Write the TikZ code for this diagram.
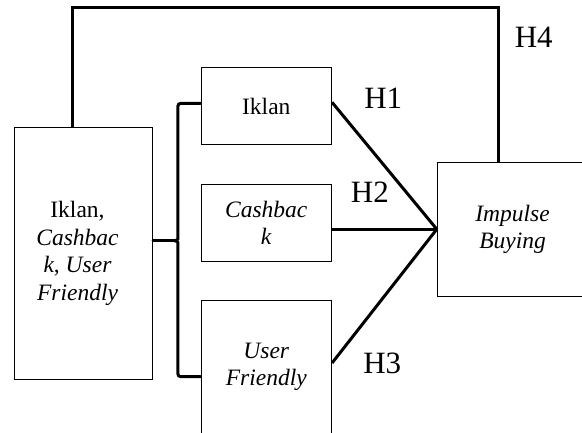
\documentclass[tikz,border=0pt]{standalone}
\usepackage{fontspec}
\setmainfont{Liberation Serif}
\begin{document}
\begin{tikzpicture}[x=1pt,y=-1pt,
  box/.style={draw=black, line width=1pt, inner sep=0pt, align=center,
    font=\fontsize{23.5}{27.5}\selectfont},
  txt/.style={inner sep=0pt, align=center, font=\fontsize{23.5}{27.5}\selectfont},
  hyp/.style={inner sep=0pt, font=\fontsize{31}{34}\selectfont},
  conn/.style={draw=black, line width=3pt}
]
\useasboundingbox (0,0) rectangle (582,432);
% boxes
\node[box, minimum width=138.5pt, minimum height=251.6pt] (L) at (83.3,253.5) {};
\node[txt] (Lt) at (77.5,253.5) {Iklan,\\ \textit{Cashbac}\\ \textit{k}, \textit{User}\\ \textit{Friendly}};
\node[box, minimum width=130.5pt, minimum height=76.7pt] (A) at (266.3,106.3) {Iklan};
\node[box, minimum width=130.5pt, minimum height=76.6pt] (B) at (266.3,223) {\textit{Cashbac}\\ \textit{k}};
\node[box, minimum width=130.5pt, minimum height=132.6pt] (C) at (266.3,367) {\textit{User}\\ \textit{Friendly}};
\node[box, minimum width=150.6pt, minimum height=133.7pt] (D) at (512.6,229.2) {\textit{Impulse}\\ \textit{Buying}};
% labels
\node[hyp] (H1) at (383.3,98.3) {H1};
\node[hyp] (H2) at (369.9,192.7) {H2};
\node[hyp] (H3) at (382.3,363.3) {H3};
\node[hyp] (H4) at (533.8,37.3) {H4};
% connectors to Impulse Buying
\draw[conn] ([yshift=4pt]A.east) -- (D.west);
\draw[conn] (B.east |- D.west) -- (D.west);
\draw[conn] ([yshift=4pt]C.east) -- (D.west);
% H4 path
\draw[conn] ([xshift=-11.3pt]L.north) -- ++(0,119.7pt) -| ([xshift=-14.6pt]D.north);
% brace
\coordinate (bm) at (174.5,240.7);
\draw[conn, line cap=round, rounded corners=3pt] ([yshift=3pt]A.west) -| (177.8,236) .. controls (177.8,239.5) and (176.5,240.7) .. (bm);
\draw[conn, line cap=round, rounded corners=3pt] ([yshift=-9.7pt]C.west) -| (177.8,245.4) .. controls (177.8,242) and (176.5,240.7) .. (bm);
\draw[conn, line cap=round] ([yshift=12.8pt]L.east) -- (bm);
\end{tikzpicture}
\end{document}
